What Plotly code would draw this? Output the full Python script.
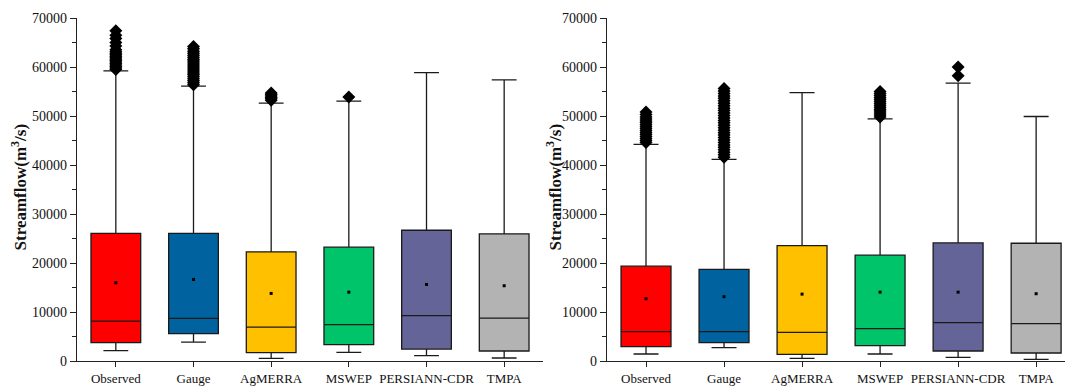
import plotly.graph_objects as go

categories = ["Observed", "Gauge", "AgMERRA", "MSWEP", "PERSIANN-CDR", "TMPA"]
colors = ["#FF0000", "#00639F", "#FFC000", "#00C46A", "#646499", "#B3B3B3"]

# Left panel statistics
left_q1 = [3750, 5580, 1710, 3340, 2440, 2040]
left_median = [8150, 8700, 6920, 7410, 9250, 8760]
left_q3 = [26050, 26050, 22280, 23220, 26680, 25950]
left_lower = [2100, 3870, 550, 1770, 1100, 610]
left_upper = [59200, 56100, 52630, 53030, 58860, 57370]
left_mean = [15970, 16640, 13790, 14050, 15620, 15360]
left_outliers = [
    [59500, 59800, 60100, 60400, 60700, 61000, 61300, 61600, 61900, 62200, 62500,
     62800, 63100, 63500, 64300, 65000, 65800, 66500, 67400],
    [56400, 56800, 57200, 57600, 58000, 58400, 58800, 59200, 59600, 60000, 60400,
     60800, 61200, 61600, 62000, 62400, 62800, 63200, 63700, 64200],
    [53200, 53500, 53800, 54100, 54400, 54700],
    [53900],
    [],
    [],
]

# Right panel statistics
right_q1 = [2930, 3750, 1360, 3130, 2040, 1630]
right_median = [5990, 5990, 5840, 6590, 7820, 7620]
right_q3 = [19350, 18680, 23560, 21590, 24100, 24030]
right_lower = [1430, 2730, 550, 1430, 750, 350]
right_upper = [44200, 41140, 54790, 49430, 56700, 49900]
right_mean = [12710, 13120, 13650, 14050, 14050, 13730]
right_outliers = [
    [44600, 45000, 45400, 45800, 46200, 46600, 47000, 47400, 47800, 48200, 48600,
     49000, 49400, 49800, 50300, 50800],
    [41600, 42100, 42600, 43100, 43600, 44100, 44600, 45100, 45600, 46100, 46600,
     47100, 47600, 48100, 48600, 49100, 49600, 50100, 50600, 51100, 51600, 52100,
     52600, 53100, 53600, 54100, 54600, 55100, 55600],
    [],
    [49800, 50200, 50600, 51000, 51400, 51800, 52200, 52600, 53000, 53400, 53800,
     54200, 54600, 55000],
    [58200, 60000],
    [],
]

y_ticks = [0, 10000, 20000, 30000, 40000, 50000, 60000, 70000]
y_title = "<b>Streamflow(m<sup>3</sup>/s)</b>"

FONT = "Liberation Serif, Times New Roman, serif"
fig = go.Figure()

panels = [
    ("x", "y", left_q1, left_median, left_q3, left_lower, left_upper, left_mean, left_outliers),
    ("x2", "y2", right_q1, right_median, right_q3, right_lower, right_upper, right_mean, right_outliers),
]

for xa, ya, q1, med, q3, lo, hi, mean, outs in panels:
    for i, cat in enumerate(categories):
        fig.add_trace(go.Box(
            x=[cat], q1=[q1[i]], median=[med[i]], q3=[q3[i]],
            lowerfence=[lo[i]], upperfence=[hi[i]],
            fillcolor=colors[i], line=dict(color="#1a1a1a", width=1.3),
            width=0.64, whiskerwidth=0.5, boxpoints=False,
            showlegend=False, xaxis=xa, yaxis=ya, hoverinfo="skip",
        ))
        if outs[i]:
            fig.add_trace(go.Scatter(
                x=[cat] * len(outs[i]), y=outs[i], mode="markers",
                marker=dict(symbol="diamond", size=10, color="black"),
                showlegend=False, xaxis=xa, yaxis=ya, hoverinfo="skip",
            ))
    fig.add_trace(go.Scatter(
        x=categories, y=mean, mode="markers",
        marker=dict(symbol="square", size=3, color="black"),
        showlegend=False, xaxis=xa, yaxis=ya, hoverinfo="skip",
    ))

W, H = 1065, 388
xcommon = dict(
    type="category", categoryorder="array", categoryarray=categories,
    showline=True, linecolor="#222", linewidth=1.2, ticks="outside", ticklen=5,
    tickcolor="#222", tickfont=dict(family=FONT, size=13, color="#111"),
    tickangle=0, automargin=False,
    showgrid=False, zeroline=False, fixedrange=True,
)
ycommon = dict(
    range=[0, 70000], tickvals=y_ticks, tickformat="d", automargin=False,
    showline=True, linecolor="#222", linewidth=1.2, ticks="outside", ticklen=6,
    tickcolor="#222", tickfont=dict(family=FONT, size=14, color="#111"),
    showgrid=False, zeroline=False,
    minor=dict(ticks="outside", dtick=5000, ticklen=4, tickcolor="#222", showgrid=False),
)

fig.update_layout(
    width=W, height=H,
    margin=dict(l=0, r=0, t=18, b=27),
    paper_bgcolor="white", plot_bgcolor="white",
    boxmode="overlay",
    xaxis=dict(domain=[77 / W, 543 / W], range=[-0.5, 5.5], anchor="y", **xcommon),
    xaxis2=dict(domain=[607 / W, 1.0], range=[-0.5, 5.37], anchor="y2", **xcommon),
    yaxis=dict(anchor="x", **ycommon),
    yaxis2=dict(anchor="x2", **ycommon),
    annotations=[
        dict(text=y_title, x=19 / W, y=0.506, xref="paper", yref="paper",
             textangle=-90, showarrow=False, xanchor="center", yanchor="middle",
             font=dict(family=FONT, size=17, color="#111")),
        dict(text=y_title, x=554 / W, y=0.506, xref="paper", yref="paper",
             textangle=-90, showarrow=False, xanchor="center", yanchor="middle",
             font=dict(family=FONT, size=17, color="#111")),
    ],
)

fig.write_html(
    "out.html",
    config={"displayModeBar": False},
    post_script="document.body.style.margin='0';document.body.style.overflow='hidden';",
)
